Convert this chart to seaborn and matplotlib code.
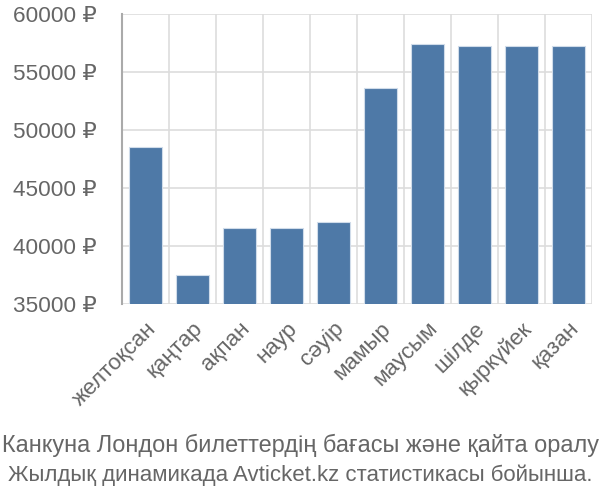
import matplotlib
matplotlib.use("Agg")
import matplotlib.pyplot as plt
import seaborn as sns
import pandas as pd
import numpy as np

months = ["желтоқсан", "қаңтар", "ақпан", "наур", "сәуір", "мамыр",
          "маусым", "шілде", "қыркүйек", "қазан"]
prices = [48530, 37500, 41530, 41580, 42040, 53620, 57410, 57240, 57240, 57240]
yticks = [35000, 40000, 45000, 50000, 55000, 60000]
ytick_labels = [f"{v} ₽" for v in yticks]
caption = ["Канкуна Лондон билеттердің бағасы және қайта оралу",
           "Жылдық динамикада Avticket.kz статистикасы бойынша."]

sns.set_theme(style="white")
plt.rcParams['font.family'] = ['Liberation Sans', 'DejaVu Sans']

df = pd.DataFrame({"month": months, "price": prices})

fig = plt.figure(figsize=(6, 5), dpi=100)
ax = fig.add_axes([122/600, 1-304/500, 470/600, 290/500])

sns.barplot(data=df, x="month", y="price", color="#4E79A7", saturation=1,
            width=0.72, edgecolor="#d0dcea", linewidth=0.8, ax=ax, zorder=3)

ax.set_ylim(35000, 60000)
ax.set_xlim(-0.5, len(months) - 0.5)
ax.set_yticks(yticks)
ax.set_yticklabels(ytick_labels)
ax.set_xlabel("")
ax.set_ylabel("")

grid_c = "#dddddd"
text_c = "#666666"
ax.grid(axis="y", color=grid_c, linewidth=1.2, zorder=0)
ax.set_xticks(np.arange(-0.5, len(months), 1.0), minor=True)
ax.grid(axis="x", which="minor", color=grid_c, linewidth=1.2, zorder=0)
ax.tick_params(axis="x", which="minor", length=13, color=grid_c, width=1.2)
ax.tick_params(axis="x", which="major", length=0, pad=10)
ax.tick_params(axis="y", length=16, color=grid_c, width=1.2, pad=2)
ax.set_xticks(range(len(months)))
ax.set_xticklabels(months, rotation=45, ha="right", rotation_mode="anchor",
                   fontsize=16.2, color=text_c)
for lab in ax.get_yticklabels():
    lab.set_fontsize(16.2)
    lab.set_color(text_c)

for s in ["top", "right", "bottom"]:
    ax.spines[s].set_visible(False)
ax.spines["left"].set_color("#aaaaaa")
ax.spines["left"].set_linewidth(1.5)

fig.text(0.5, 1-445/500, caption[0], ha="center", va="center", fontsize=16.9,
         color=text_c)
fig.text(0.5, 1-475/500, caption[1], ha="center", va="center", fontsize=16.0,
         color=text_c)

fig.savefig("out.png", dpi=100)
